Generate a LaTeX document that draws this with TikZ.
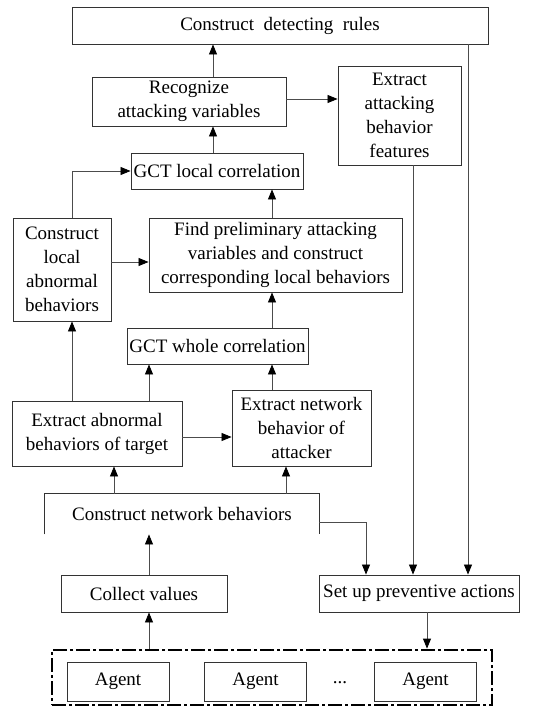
\documentclass[tikz,border=0pt]{standalone}
\usepackage{fontspec}
\setmainfont{Liberation Serif}
\usetikzlibrary{arrows.meta,positioning}
\tikzset{
  caja/.style={
    draw=black!80,
    line width=.9pt,
    align=center,
    inner sep=0pt,
    font=\fontsize{19}{24}\selectfont
  },
  agente/.style={
    caja,
    minimum width=102pt,
    minimum height=39pt
  },
  marco/.style={
    draw=black,
    line width=2.8pt,
    dash pattern=on 14pt off 3pt on 3pt off 3pt,
    inner sep=0pt
  },
  arrow/.style={
    -{Triangle[length=10pt,width=8pt,color=black]},
    line width=.8pt,
    black!70
  }
}

\begin{document}
\begin{tikzpicture}[x=1pt,y=-1pt]
\useasboundingbox (0,0) rectangle (554,708);
\node[caja,minimum width=416pt,minimum height=37pt] (rules) at (280,25.5) {Construct\ \ detecting\ \ rules};
\node[caja,minimum width=194pt,minimum height=49pt] (recog) at (189,101.5) {Recognize\\attacking variables};
\node[caja,minimum width=123pt,minimum height=99pt] (feat) at (399.5,115.5) {Extract\\attacking\\behavior\\features};
\node[caja,minimum width=172pt,minimum height=36pt] (gctl) at (217,171) {GCT local correlation};
\node[caja,minimum width=98pt,minimum height=103pt] (local) at (62,269.5) {Construct\\local\\abnormal\\behaviors};
\node[caja,minimum width=253pt,minimum height=74pt] (find) at (275.5,255) {Find preliminary attacking\\variables and construct\\corresponding local behaviors};
\node[caja,minimum width=181pt,minimum height=36pt] (gctw) at (217.5,346) {GCT whole correlation};
\node[caja,minimum width=170pt,minimum height=65pt] (abn) at (97,433.5) {Extract abnormal\\behaviors of target};
\node[caja,minimum width=139pt,minimum height=76pt] (net) at (301.5,428) {Extract network\\behavior of\\attacker};
\node[caja,draw=none,minimum width=274pt,minimum height=40pt] (cnb) at (182,514) {Construct network behaviors};
\draw[black!80,line width=.9pt] (cnb.south west) -- (cnb.north west) -- (cnb.north east) -- (cnb.south east);
\node[caja,minimum width=166pt,minimum height=37pt] (collect) at (144,593.5) {Collect values};
\node[caja,minimum width=200pt,minimum height=37pt] (prev) at (419,593.5) {Set up preventive actions};
\node[marco,minimum width=440pt,minimum height=55pt] (agentes) at (272,677.5) {};
\node[agente] (ag1) at (118,681.5) {Agent};
\node[agente] (ag2) at (255.5,681.5) {Agent};
\node[agente] (ag3) at (425.5,681.5) {Agent};
\node[font=\fontsize{19}{24}\selectfont] (dots) at (340,683) {...};

\draw[arrow] ([xshift=24pt]recog.north) -- ([xshift=24pt]recog.north |- rules.south);
\draw[arrow] ([yshift=2.5pt]recog.east) -- ([yshift=2.5pt]recog.east -| feat.west);
\draw[arrow] ([xshift=-4pt]gctl.north) -- ([xshift=-4pt]gctl.north |- recog.south);
\draw[arrow] ([xshift=10pt]local.north) |- (gctl.west);
\draw[arrow] ([xshift=-3.5pt]find.north) -- ([xshift=-3.5pt]find.north |- gctl.south);
\draw[arrow] ([yshift=7.5pt]local.east) -- ([yshift=7.5pt]local.east -| find.west);
\draw[arrow] ([xshift=-3.5pt]find.south |- gctw.north) -- ([xshift=-3.5pt]find.south);
\draw[arrow] ([xshift=-29.5pt]net.north) -- ([xshift=-29.5pt]net.north |- gctw.south);
\draw[arrow] ([xshift=52pt]abn.north) -- ([xshift=52pt]abn.north |- gctw.south);
\draw[arrow] ([xshift=-25pt]abn.north) -- ([xshift=-25pt]abn.north |- local.south);
\draw[arrow] ([yshift=-3.5pt]abn.east) -- ([yshift=-3.5pt]abn.east -| net.west);
\draw[arrow] ([xshift=17pt]abn.south |- cnb.north) -- ([xshift=17pt]abn.south);
\draw[arrow] ([xshift=-15.5pt]net.south |- cnb.north) -- ([xshift=-15.5pt]net.south);
\draw[arrow] ([xshift=5pt]collect.north) -- ([xshift=5pt]collect.north |- cnb.south);
\draw[arrow] ([yshift=-8pt]cnb.east) -| ([xshift=-53pt]prev.north);
\draw[arrow] ([xshift=13.5pt]feat.south) -- ([xshift=13.5pt]feat.south |- prev.north);
\draw[arrow] ([xshift=188pt]rules.south) -- ([xshift=188pt]rules.south |- prev.north);
\draw[arrow] ([xshift=5pt]collect.south |- agentes.north) -- ([xshift=5pt]collect.south);
\draw[arrow] ([xshift=8pt]prev.south) -- ([xshift=8pt]prev.south |- agentes.north);
\end{tikzpicture}
\end{document}
